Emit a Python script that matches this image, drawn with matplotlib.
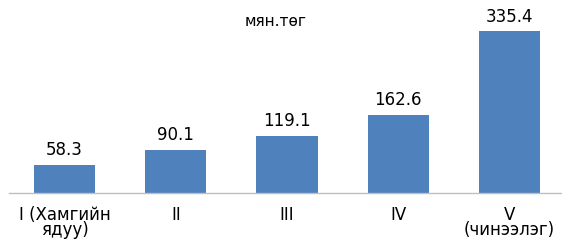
import matplotlib
matplotlib.use("Agg")
import matplotlib.pyplot as plt

categories = ["I (Хамгийн\nядуу)", "II", "III", "IV", "V\n(чинээлэг)"]
values = [58.3, 90.1, 119.1, 162.6, 335.4]
unit = "мян.төг"

plt.rcParams['font.family'] = ['DejaVu Sans']

fig = plt.figure(figsize=(5.62, 2.40), dpi=100)
ax = fig.add_axes([9 / 562, 47 / 240, 556 / 562, 193 / 240])

x = range(len(values))
bars = ax.bar(x, values, width=0.55, color="#4F81BD")
for b, v in zip(bars, values):
    ax.annotate(f"{v:.1f}", (b.get_x() + b.get_width() / 2, v),
                xytext=(0, 4), textcoords="offset points",
                ha="center", va="bottom", fontsize=12, color="#000000")

ax.set_xlim(-0.5, 4.5)
ax.set_ylim(0, 400)
ax.set_xticks(list(x))
ax.set_xticklabels(categories, fontsize=12, linespacing=0.85)
ax.tick_params(axis="x", length=0, pad=9)
ax.set_yticks([])
for s in ["top", "right", "left"]:
    ax.spines[s].set_visible(False)
ax.spines["bottom"].set_color("#BFBFBF")
ax.spines["bottom"].set_linewidth(1.0)

fig.text(276 / 562, 1 - 22 / 240, unit, ha="center", va="center", fontsize=11)

fig.savefig("out.png", dpi=100)
